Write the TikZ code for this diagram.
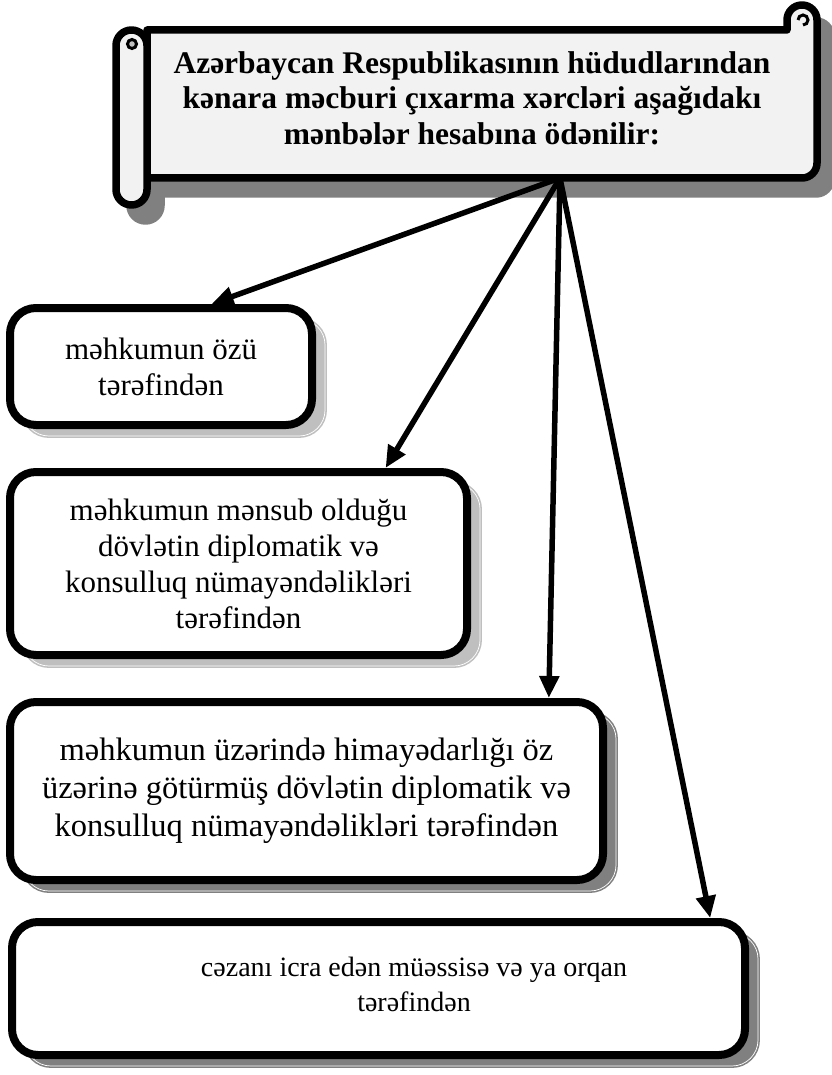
\documentclass[tikz,border=0pt]{standalone}
\usepackage{fontspec}
\setmainfont{Liberation Serif}
\usetikzlibrary{arrows.meta,shadows}
\tikzset{
  box/.style={draw, line width=8pt, rounded corners=26pt, fill=white, align=center,
    inner sep=0pt, font=\fontsize{31}{36}\selectfont},
  lightshadow/.style={drop shadow={shadow xshift=13pt, shadow yshift=-11pt,
    fill=black!25, draw=black!25, line width=1.6pt, double=white,
    double distance=0.7pt, opacity=1}},
  darkshadow/.style={drop shadow={shadow xshift=13pt, shadow yshift=-11pt,
    fill=black!50, draw=black!50, line width=1.6pt, double=white,
    double distance=0.7pt, opacity=1}},
  conn/.style={line width=5.5pt, -{Triangle[length=22pt,width=19pt]}},
  scroll/.style={line width=7.5pt, fill=black!5, line join=round},
  scrollshadow/.style={line width=7.5pt, fill=black!50, draw=black!50, line join=round},
}
\begin{document}
\begin{tikzpicture}[x=1pt,y=-1pt]
\useasboundingbox (0,0) rectangle (831,1075);
% shadow of the scroll
\begin{scope}[shift={(14,16)}]
\filldraw[scrollshadow] (147,30) -- (787,30) -- (787,20)
  arc[start angle=180,end angle=360,radius=15] -- (817,163)
  arc[start angle=0,end angle=90,radius=15] -- (147,178) -- cycle;
\filldraw[scrollshadow] (116,45.5) arc[start angle=180,end angle=360,radius=15.5]
  -- (147,189.5) arc[start angle=0,end angle=180,radius=15.5] -- cycle;
\end{scope}
% scroll
\filldraw[scroll] (147,30) -- (787,30) -- (787,20)
  arc[start angle=180,end angle=360,radius=15] -- (817,163)
  arc[start angle=0,end angle=90,radius=15] -- (147,178) -- cycle;
\filldraw[scroll] (116,45.5) arc[start angle=180,end angle=360,radius=15.5]
  -- (147,189.5) arc[start angle=0,end angle=180,radius=15.5] -- cycle;
\draw[line width=3pt, fill=black!25] (132,44) circle (4.5);
\draw[line width=3pt] (803,25) arc[start angle=90,end angle=-180,radius=5];
\node[font=\bfseries\fontsize{31.5}{35.5}\selectfont, align=center] (title) at (472,98)
  {Azərbaycan Respublikasının hüdudlarından\\kənara məcburi çıxarma xərcləri aşağıdakı\\mənbələr hesabına ödənilir:};
\coordinate (src) at (560,178);

% boxes
\node[box, lightshadow, minimum width=302pt, minimum height=117pt] (self) at (161,366.5)
  {məhkumun özü\\tərəfindən};
\node[box, lightshadow, minimum width=457pt, minimum height=183pt] (native) at (238.5,563.5)
  {məhkumun mənsub olduğu\\dövlətin diplomatik və\\konsulluq nümayəndəlikləri\\tərəfindən};
\node[box, darkshadow, minimum width=593pt, minimum height=178pt,
  font=\fontsize{32.5}{38}\selectfont] (guard) at (306.5,791)
  {məhkumun üzərində himayədarlığı öz\\üzərinə götürmüş dövlətin diplomatik və\\konsulluq nümayəndəlikləri tərəfindən};
\node[box, darkshadow, minimum width=733pt, minimum height=133pt] (organ) at (378.5,988.5) {};
\node[align=center, font=\fontsize{28}{35}\selectfont] (organtext) at (414,984)
  {cəzanı icra edən müəssisə və ya orqan\\tərəfindən};

% arrows
\draw[conn] (src) -- (self.51.2);
\draw[conn] (src) -- (native.33.4);
\draw[conn] (src) -- (guard.21.9);
\draw[conn] (src) -- (organ.12.2);
\end{tikzpicture}
\end{document}
